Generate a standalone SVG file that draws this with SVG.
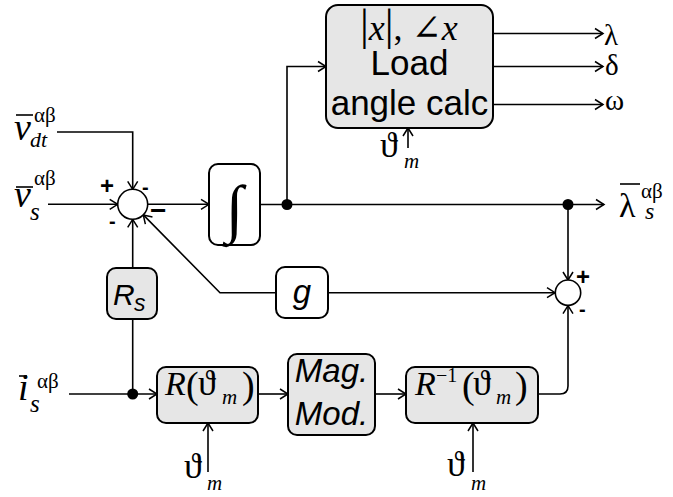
<svg xmlns="http://www.w3.org/2000/svg" width="673" height="497" viewBox="0 0 673 497">
<style>
.ln{stroke:#000;stroke-width:1.6;fill:none}
.box{fill:#e6e6e6;stroke:#000;stroke-width:2}
.wbox{fill:#fff;stroke:#000;stroke-width:2}
.sum{fill:#fff;stroke:#000;stroke-width:1.6}
.tm{font-family:"Liberation Serif","DejaVu Serif",serif}
.th{font-family:"Liberation Serif","DejaVu Serif",serif}
.it{font-style:italic}
.sans{font-family:"Liberation Sans",Arial,sans-serif}
.sg{font-family:"Liberation Sans",Arial,sans-serif;font-weight:bold}
.ov{stroke:#000;stroke-width:1.6}
</style>
<defs>
<marker id="ar" markerUnits="userSpaceOnUse" markerWidth="12" markerHeight="12" refX="10" refY="6" orient="auto" overflow="visible">
<path d="M2,1 L10,6 L2,11" fill="none" stroke="#000" stroke-width="1.5"/>
</marker>
</defs>
<rect width="673" height="497" fill="#fff"/>

<g id="connectors">
<polyline class="ln" points="57,132 132.7,132 132.7,189.3" marker-end="url(#ar)"/>
<line class="ln" x1="48" y1="204.3" x2="117.7" y2="204.3" marker-end="url(#ar)"/>
<line class="ln" x1="147.7" y1="204.3" x2="209" y2="204.3" marker-end="url(#ar)"/>
<line class="ln" x1="260" y1="204.5" x2="568" y2="204.5"/>
<line class="ln" x1="568" y1="204.5" x2="604" y2="204.5" marker-end="url(#ar)"/>
<polyline class="ln" points="287,204.5 287,66.5 326,66.5" marker-end="url(#ar)"/>
<line class="ln" x1="493" y1="33.5" x2="603" y2="33.5" marker-end="url(#ar)"/>
<line class="ln" x1="493" y1="66.5" x2="603" y2="66.5" marker-end="url(#ar)"/>
<line class="ln" x1="493" y1="104.5" x2="603" y2="104.5" marker-end="url(#ar)"/>
<line class="ln" x1="408" y1="148" x2="408" y2="128" marker-end="url(#ar)"/>
<line class="ln" x1="568" y1="204.5" x2="568" y2="280" marker-end="url(#ar)"/>
<line class="ln" x1="328" y1="292.7" x2="555" y2="292.7" marker-end="url(#ar)"/>
<polyline class="ln" points="276,292.7 220,292.7 143.3,214.9" marker-end="url(#ar)"/>
<line class="ln" x1="132.7" y1="268" x2="132.7" y2="219.3" marker-end="url(#ar)"/>
<line class="ln" x1="132.7" y1="319" x2="132.7" y2="394"/>
<line class="ln" x1="69" y1="394" x2="157" y2="394" marker-end="url(#ar)"/>
<line class="ln" x1="258" y1="394" x2="288" y2="394" marker-end="url(#ar)"/>
<line class="ln" x1="375" y1="394" x2="406" y2="394" marker-end="url(#ar)"/>
<path class="ln" d="M538,394 L560,394 Q568,394 568,386 L568,305.7" marker-end="url(#ar)"/>
<line class="ln" x1="208" y1="472" x2="208" y2="423" marker-end="url(#ar)"/>
<line class="ln" x1="473" y1="472" x2="473" y2="423" marker-end="url(#ar)"/>
<circle cx="287" cy="204.5" r="5.5"/>
<circle cx="568" cy="204.5" r="5.5"/>
<circle cx="132.7" cy="394" r="5.5"/>
</g>

<g id="in_vdt">
<text class="tm it" x="14" y="140" font-size="38">v</text>
<line class="ov" x1="16" y1="115" x2="33" y2="115"/>
<text class="tm" x="34" y="122" font-size="21">αβ</text>
<text class="tm it" x="30" y="147" font-size="22">dt</text>
</g>
<g id="in_vs">
<text class="tm it" x="14" y="207" font-size="38">v</text>
<line class="ov" x1="16" y1="187" x2="33" y2="187"/>
<text class="tm" x="34" y="185" font-size="21">αβ</text>
<text class="tm it" x="30" y="220" font-size="25">s</text>
</g>
<g id="in_is">
<text class="tm it" x="18" y="400" font-size="38">i</text>
<line class="ov" x1="19" y1="376" x2="27" y2="376"/>
<text class="tm" x="37" y="388" font-size="21">αβ</text>
<text class="tm it" x="30" y="412" font-size="25">s</text>
</g>

<g id="sum1">
<circle class="sum" cx="132.7" cy="204.3" r="15"/>
<text class="sg" x="100" y="194" font-size="24">+</text>
<text class="sg" x="142" y="194" font-size="20">-</text>
<text class="sg" x="150" y="220" font-size="28">−</text>
<text class="sg" x="109" y="228" font-size="20">-</text>
</g>

<g id="integrator">
<rect class="wbox" x="209" y="164" width="51" height="81" rx="9"/>
<text class="tm" x="234.5" y="230" font-size="64" text-anchor="middle">∫</text>
</g>

<g id="loadangle">
<rect class="box" x="326" y="5" width="167" height="123" rx="12"/>
<text class="tm" x="360" y="40" font-size="36"><tspan font-size="44">|</tspan><tspan class="it">x</tspan><tspan font-size="44">|</tspan><tspan>, ∠</tspan><tspan class="it">x</tspan></text>
<text class="sans" x="409.5" y="75" font-size="35" text-anchor="middle">Load</text>
<text class="sans" x="409.5" y="115" font-size="35" text-anchor="middle">angle calc</text>
</g>
<g id="theta_load">
<text class="th" x="380" y="157" font-size="36">ϑ</text>
<text class="tm it" x="404" y="168" font-size="21">m</text>
</g>

<g id="outputs">
<text class="tm" x="604" y="45" font-size="29">λ</text>
<text class="tm" x="605" y="75" font-size="29">δ</text>
<text class="tm" x="605" y="110" font-size="29">ω</text>
</g>
<g id="out_lambda">
<text class="tm" x="619" y="217" font-size="34">λ</text>
<line class="ov" x1="620" y1="184" x2="640" y2="184"/>
<text class="tm" x="641" y="198" font-size="21">αβ</text>
<text class="tm it" x="645" y="219" font-size="24">s</text>
</g>

<g id="sum2">
<circle class="sum" cx="568" cy="292.7" r="12.7"/>
<text class="sg" x="576" y="285" font-size="24">+</text>
<text class="sg" x="579" y="316" font-size="20">-</text>
</g>

<g id="gain_g">
<rect class="wbox" x="276" y="267" width="52" height="51" rx="9"/>
<text class="sans it" x="302" y="303" font-size="33" text-anchor="middle">g</text>
</g>

<g id="Rs">
<rect class="box" x="107" y="268" width="50" height="51" rx="9"/>
<text class="sans it" x="113" y="305" font-size="30">R</text>
<text class="sans it" x="134" y="311" font-size="23">s</text>
</g>

<g id="Rtheta">
<rect class="box" x="157" y="367" width="101" height="56" rx="9"/>
<text class="tm it" x="165" y="395" font-size="34">R</text>
<text class="tm" x="186" y="398" font-size="38">(</text>
<text class="th" x="198" y="395" font-size="36">ϑ</text>
<text class="tm it" x="222" y="404" font-size="21">m</text>
<text class="tm" x="242" y="398" font-size="38">)</text>
</g>
<g id="theta_R">
<text class="th" x="184" y="478" font-size="36">ϑ</text>
<text class="tm it" x="207" y="490" font-size="21">m</text>
</g>

<g id="magmod">
<rect class="box" x="288" y="354" width="87" height="81" rx="9"/>
<text class="sans it" x="331.5" y="382" font-size="33" text-anchor="middle">Mag.</text>
<text class="sans it" x="331.5" y="425" font-size="33" text-anchor="middle">Mod.</text>
</g>

<g id="Rinv">
<rect class="box" x="406" y="367" width="132" height="56" rx="9"/>
<text class="tm it" x="415" y="395" font-size="34">R</text>
<text class="tm" x="436" y="382" font-size="20">−1</text>
<text class="tm" x="462" y="398" font-size="38">(</text>
<text class="th" x="473" y="395" font-size="36">ϑ</text>
<text class="tm it" x="496" y="404" font-size="21">m</text>
<text class="tm" x="515" y="398" font-size="38">)</text>
</g>
<g id="theta_Rinv">
<text class="th" x="447" y="476" font-size="36">ϑ</text>
<text class="tm it" x="471" y="490" font-size="21">m</text>
</g>
</svg>
